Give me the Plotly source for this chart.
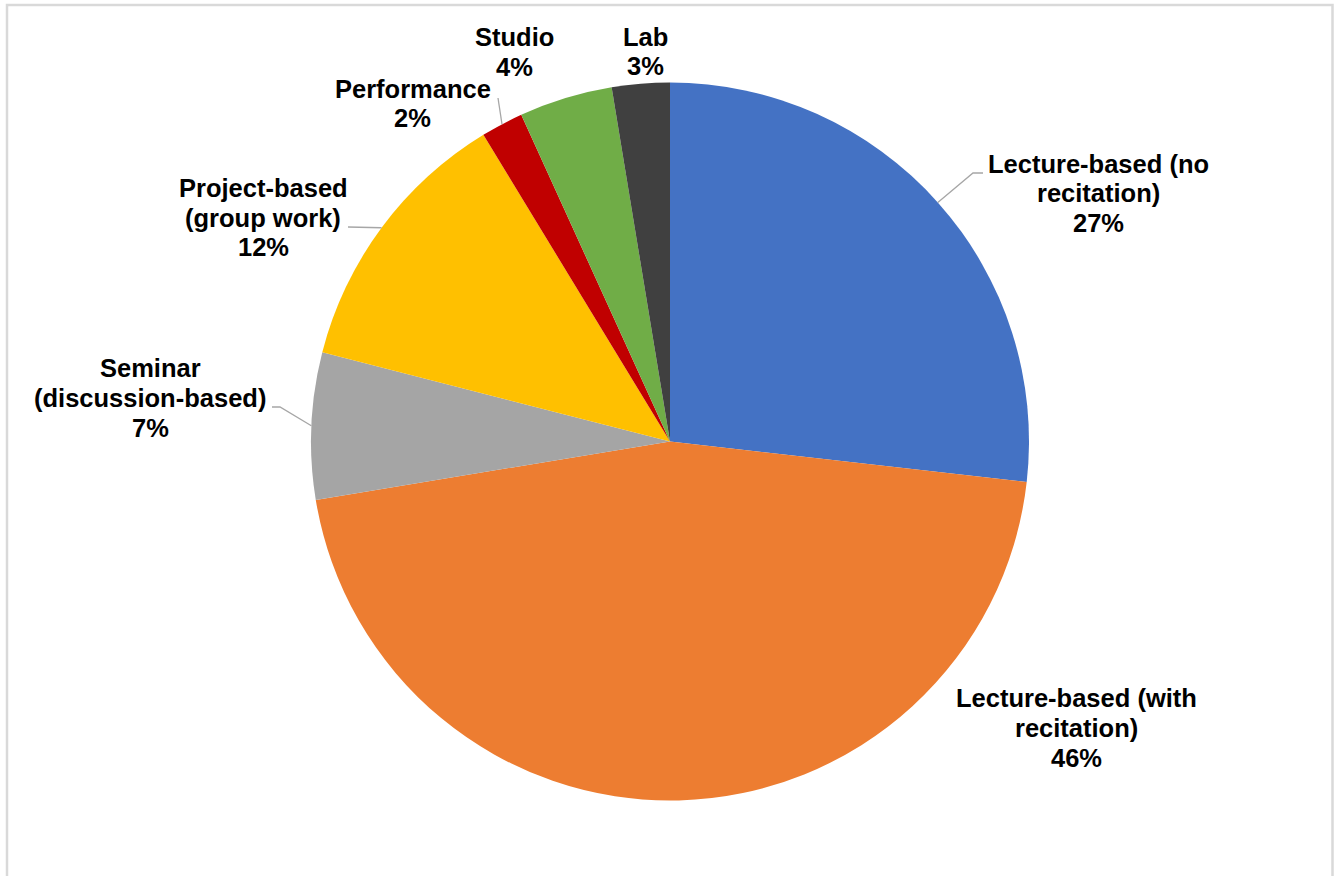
import math
import plotly.graph_objects as go

W, H = 1339, 876

categories = [
    "Lecture-based (no recitation)",
    "Lecture-based (with recitation)",
    "Seminar (discussion-based)",
    "Project-based (group work)",
    "Performance",
    "Studio",
    "Lab",
]
wrapped_labels = [
    "Lecture-based (no<br>recitation)",
    "Lecture-based (with<br>recitation)",
    "Seminar<br>(discussion-based)",
    "Project-based<br>(group work)",
    "Performance",
    "Studio",
    "Lab",
]
values = [26.8, 45.6, 6.6, 12.3, 1.9, 4.2, 2.6]
colors = ["#4472C4", "#ED7D31", "#A5A5A5", "#FFC000", "#C00000", "#70AD47", "#404040"]

# layout: label centres (pixels) and leader-line elbow points (pixels)
label_pos = [(1098, 193.5), (1076, 728), (150, 398), (263, 217.5), (413, 103.5), (514, 52), (645, 51.5)]
leader_pts = [[(973, 173), (983, 173)], None, [(280, 407), (272, 407)], [(348, 227)], [(498, 98)], None, None]
line_gap = 29.8
font_size = 25.5

cx, cy, r = 670, 441.5, 359


def px(x):
    return x / W


def py(y):
    return 1 - y / H


fig = go.Figure(
    go.Pie(
        labels=categories,
        values=values,
        sort=False,
        direction="clockwise",
        rotation=0,
        marker=dict(colors=colors, line=dict(width=0)),
        textinfo="none",
        hoverinfo="label+percent",
        showlegend=False,
        domain=dict(x=[px(cx - r), px(cx + r)], y=[py(cy + r), py(cy - r)]),
    )
)

total = sum(values)
annotations = []
shapes = []
cum = 0.0
for lab, v, (lx, ly), pts in zip(wrapped_labels, values, label_pos, leader_pts):
    pct = round(v / total * 100)
    lines = lab.split("<br>") + [f"{pct}%"]
    n = len(lines)
    for i, t in enumerate(lines):
        yy = ly + (i - (n - 1) / 2) * line_gap
        annotations.append(
            dict(
                text=f"<b>{t}</b>",
                x=px(lx), y=py(yy), xref="paper", yref="paper",
                xanchor="center", yanchor="middle", showarrow=False,
                font=dict(family="Arial, Liberation Sans, sans-serif", size=font_size, color="#000000"),
                align="center",
            )
        )
    mid = (cum + v / 2) / total * 2 * math.pi
    cum += v
    if pts:
        sx = cx + r * math.sin(mid)
        sy = cy - r * math.cos(mid)
        path = f"M {px(sx)},{py(sy)}"
        for (x, y) in pts:
            path += f" L {px(x)},{py(y)}"
        shapes.append(dict(type="path", path=path, xref="paper", yref="paper",
                           line=dict(color="#A6A6A6", width=1.3)))

shapes.append(dict(type="rect", xref="paper", yref="paper",
                   x0=px(7), x1=px(1332.5), y0=py(900), y1=py(5),
                   line=dict(color="#D9D9D9", width=2.5), fillcolor="rgba(0,0,0,0)", layer="below"))

fig.update_layout(
    width=W, height=H,
    margin=dict(l=0, r=0, t=0, b=0),
    paper_bgcolor="white", plot_bgcolor="white",
    annotations=annotations,
    shapes=shapes,
)

fig.write_html("out.html")
